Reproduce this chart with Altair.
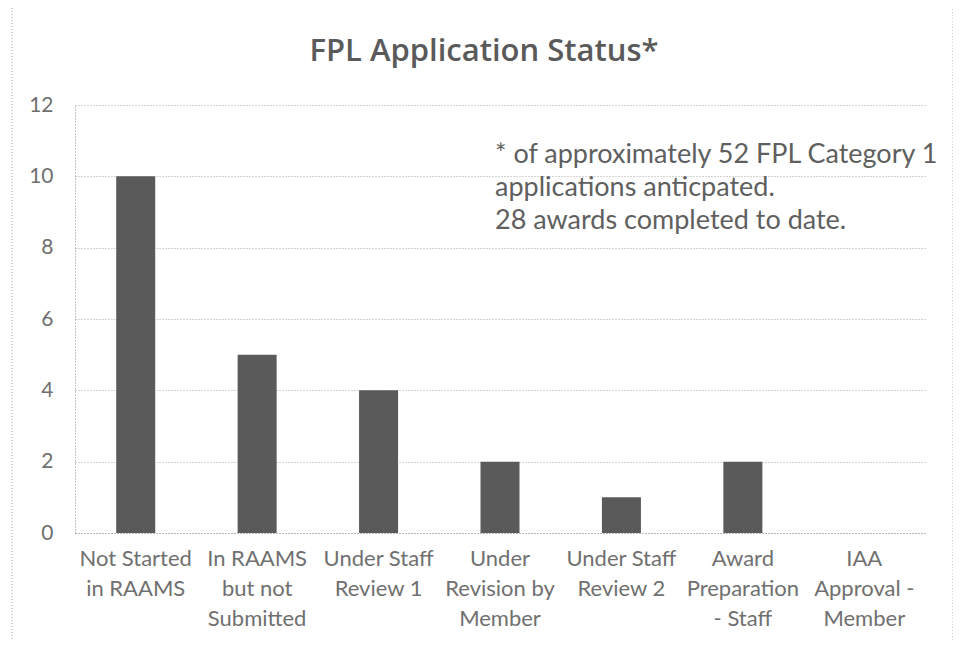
import altair as alt
import pandas as pd

categories = [
    "Not Started\nin RAAMS",
    "In RAAMS\nbut not\nSubmitted",
    "Under Staff\nReview 1",
    "Under\nRevision by\nMember",
    "Under Staff\nReview 2",
    "Award\nPreparation\n- Staff",
    "IAA\nApproval -\nMember",
]
counts = [10, 5, 4, 2, 1, 2, 0]
y_ticks = [0, 2, 4, 6, 8, 10, 12]
title_text = "FPL Application Status*"
note_lines = [
    "* of approximately 52 FPL Category 1",
    "applications anticpated.",
    "28 awards completed to date.",
]

df = pd.DataFrame({"status": categories, "count": counts})
note_df = pd.DataFrame({"note": ["\n".join(note_lines)]})
title_df = pd.DataFrame({"title": [title_text]})

FONT = "Lato"
TXT = "#707070"

bars = alt.Chart(df).mark_bar(size=39, color="#5a5a5a").encode(
    x=alt.X(
        "status:N",
        sort=categories,
        axis=alt.Axis(
            title=None,
            labelAngle=0,
            labelExpr="split(datum.label, '\\n')",
            labelLineHeight=30,
            labelFontSize=22,
            labelFont=FONT,
            labelColor=TXT,
            labelPadding=15,
            labelLimit=0,
            ticks=False,
            domain=True,
            domainColor="#9a9a9a",
            domainDash=[1, 2],
            grid=False,
        ),
        scale=alt.Scale(paddingInner=0, paddingOuter=0),
    ),
    y=alt.Y(
        "count:Q",
        scale=alt.Scale(domain=[0, 12], nice=False),
        axis=alt.Axis(
            title=None,
            values=y_ticks,
            labelFontSize=21,
            labelFont=FONT,
            labelColor=TXT,
            labelPadding=22,
            ticks=False,
            domain=True,
            domainColor="#8a8a8a",
            domainDash=[1, 2],
            grid=True,
            gridColor="#a8a8a8",
            gridDash=[1, 2],
        ),
    ),
)

note = alt.Chart(note_df).mark_text(
    align="left",
    baseline="alphabetic",
    fontSize=27,
    font=FONT,
    color="#5f5f5f",
    lineBreak="\n",
    lineHeight=33,
).encode(text="note:N", x=alt.value(420), y=alt.value(58))

title = alt.Chart(title_df).mark_text(
    align="center",
    baseline="alphabetic",
    fontSize=31,
    font="Open Sans",
    fontWeight=600,
    color="#5a5a5a",
).encode(text="title:N", x=alt.value(409), y=alt.value(-44))

border = alt.Chart(note_df).mark_rect(
    fill=None, fillOpacity=0, stroke="#a0a0a0", strokeDash=[1, 2], strokeWidth=1
).encode(
    x=alt.value(-63), x2=alt.value(878), y=alt.value(-100), y2=alt.value(560)
)

chart = alt.layer(border, bars, note, title).properties(
    width=850,
    height=428,
    padding={"left": 67, "top": 97, "right": 28, "bottom": 108},
    autosize=alt.AutoSizeParams(type="none"),
).configure(background="white").configure_view(stroke=None)

chart.save("out.html", embed_options={"renderer": "svg", "actions": False})
